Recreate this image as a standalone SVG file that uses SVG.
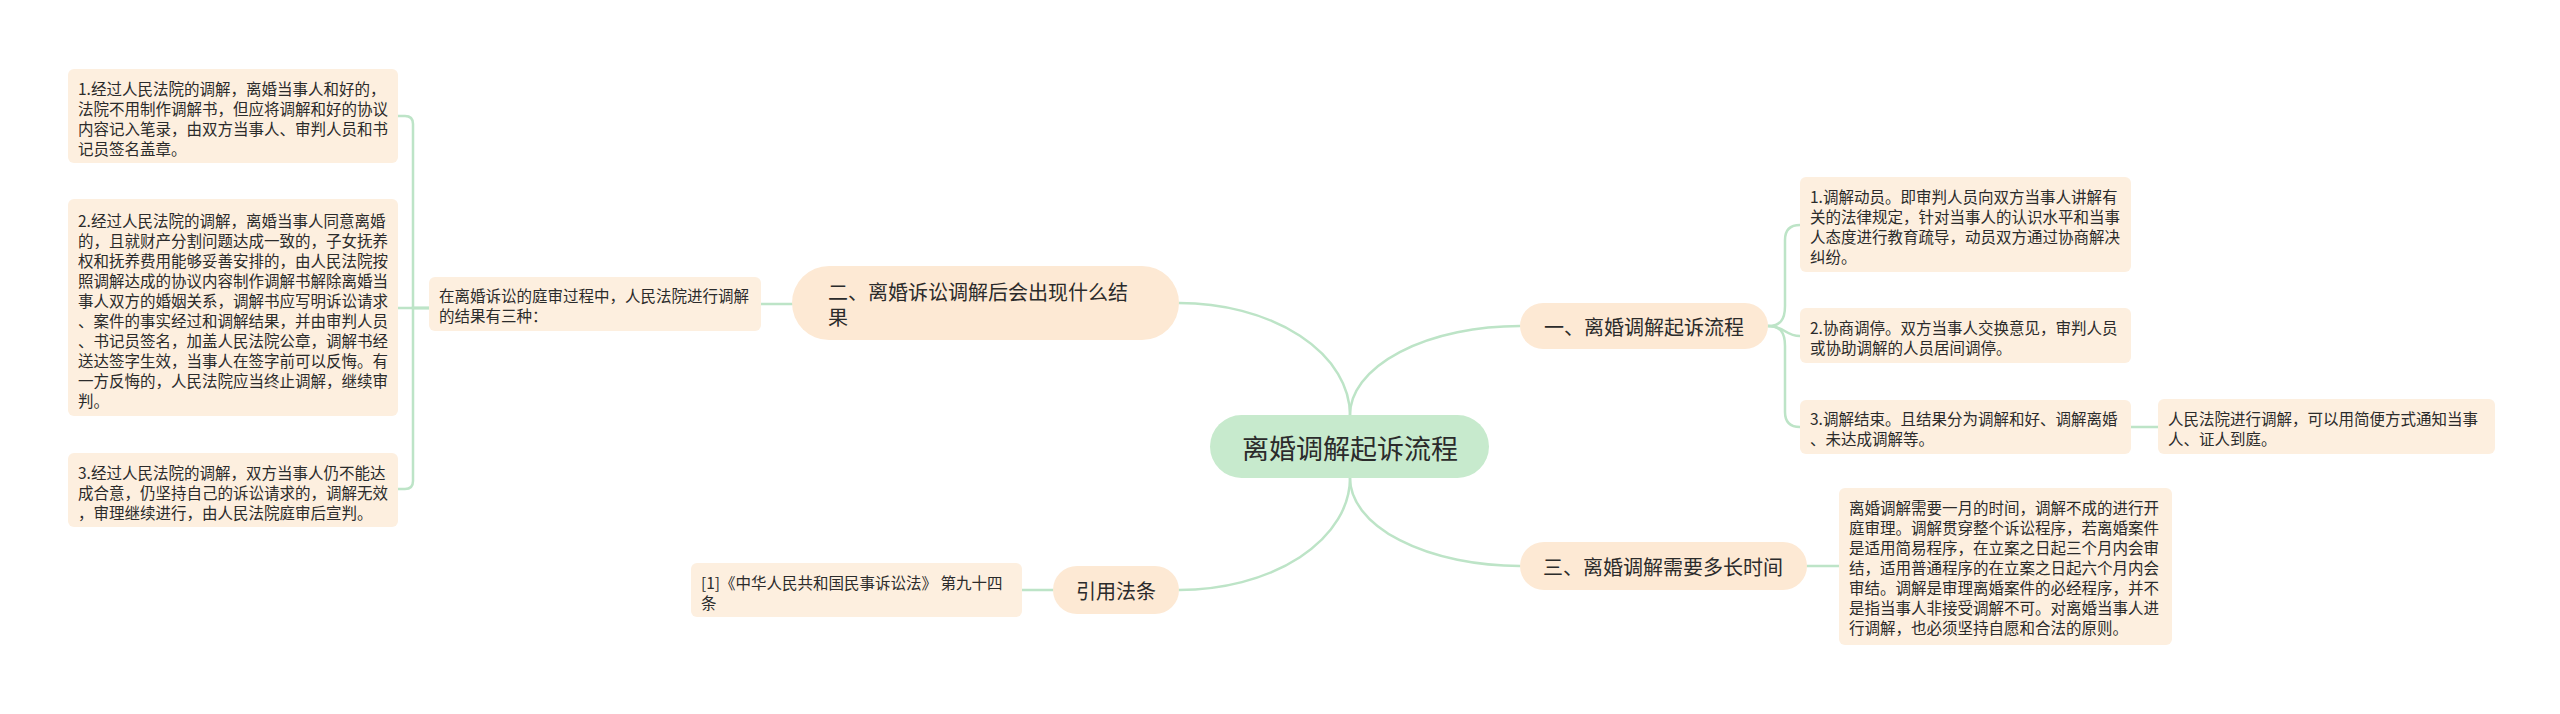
<svg xmlns="http://www.w3.org/2000/svg" width="2560" height="714" viewBox="0 0 2560 714">
<style>
.bg{fill:#ffffff}
.conn{fill:none;stroke:#bde4c7;stroke-width:2.5;stroke-linecap:round}
.main{fill:#fde9d4}
.leaf{fill:#fdefdf}
.root{fill:#c7eacd}
text{font-family:"Noto Sans CJK SC","Noto Sans",sans-serif;fill:#2b2b2b;dominant-baseline:central}
.t15{font-size:15.5px}
.t20{font-size:20px}
.t27{font-size:27px}
</style>
<rect class="bg" x="0" y="0" width="2560" height="714"/>
<g id="connectors">
<path class="conn" d="M1350 415 A171 112 0 0 0 1179 303"/>
<path class="conn" d="M1350 415 A170 89 0 0 1 1520 326"/>
<path class="conn" d="M1350 478 A170 88 0 0 0 1520 566"/>
<path class="conn" d="M1350 478 A171 112 0 0 1 1179 590"/>
<path class="conn" d="M792 304 L761 304"/>
<path class="conn" d="M1053 590 L1022 590"/>
<path class="conn" d="M429 308 L413 308 L413 124 Q413 116 405 116 L398 116"/>
<path class="conn" d="M429 308 L398 308"/>
<path class="conn" d="M429 308 L413 308 L413 481 Q413 489 405 489 L398 489"/>
<path class="conn" d="M1768 326 C1780 326 1785 320 1785 306 L1785 240 C1785 230 1790 225 1800 225"/>
<path class="conn" d="M1768 326 C1785 326 1785 336 1800 336"/>
<path class="conn" d="M1768 326 C1780 326 1785 332 1785 346 L1785 412 C1785 422 1790 427 1800 427"/>
<path class="conn" d="M2131 427 L2158 427"/>
<path class="conn" d="M1807 566 L1839 566"/>
</g>
<g id="root">
<rect class="root" x="1210" y="415" width="279" height="63" rx="31.5"/>
<text class="t27" x="1350" y="447" text-anchor="middle">离婚调解起诉流程</text>
</g>
<g id="n2">
<rect class="main" x="792" y="266" width="387" height="74" rx="37"/>
<text class="t20" x="828"><tspan x="828" y="291">二、离婚诉讼调解后会出现什么结</tspan><tspan x="828" y="316">果</tspan></text>
</g>
<g id="n2s">
<rect class="leaf" x="429" y="277" width="332" height="54" rx="6"/>
<text class="t15" x="439"><tspan x="439" y="295">在离婚诉讼的庭审过程中，人民法院进行调解</tspan><tspan x="439" y="315">的结果有三种：</tspan></text>
</g>
<g id="l1">
<rect class="leaf" x="68" y="69" width="330" height="94" rx="6"/>
<text class="t15"><tspan x="78" y="88">1.经过人民法院的调解，离婚当事人和好的，</tspan><tspan x="78" y="108">法院不用制作调解书，但应将调解和好的协议</tspan><tspan x="78" y="128">内容记入笔录，由双方当事人、审判人员和书</tspan><tspan x="78" y="148">记员签名盖章。</tspan></text>
</g>
<g id="l2">
<rect class="leaf" x="68" y="199" width="330" height="217" rx="6"/>
<text class="t15"><tspan x="78" y="220">2.经过人民法院的调解，离婚当事人同意离婚</tspan><tspan x="78" y="240">的，且就财产分割问题达成一致的，子女抚养</tspan><tspan x="78" y="260">权和抚养费用能够妥善安排的，由人民法院按</tspan><tspan x="78" y="280">照调解达成的协议内容制作调解书解除离婚当</tspan><tspan x="78" y="300">事人双方的婚姻关系，调解书应写明诉讼请求</tspan><tspan x="78" y="320">、案件的事实经过和调解结果，并由审判人员</tspan><tspan x="78" y="340">、书记员签名，加盖人民法院公章，调解书经</tspan><tspan x="78" y="360">送达签字生效，当事人在签字前可以反悔。有</tspan><tspan x="78" y="380">一方反悔的，人民法院应当终止调解，继续审</tspan><tspan x="78" y="400">判。</tspan></text>
</g>
<g id="l3">
<rect class="leaf" x="68" y="453" width="330" height="74" rx="6"/>
<text class="t15"><tspan x="78" y="472">3.经过人民法院的调解，双方当事人仍不能达</tspan><tspan x="78" y="492">成合意，仍坚持自己的诉讼请求的，调解无效</tspan><tspan x="78" y="512">，审理继续进行，由人民法院庭审后宣判。</tspan></text>
</g>
<g id="ref">
<rect class="main" x="1053" y="566" width="126" height="48" rx="24"/>
<text class="t20" x="1116" y="590" text-anchor="middle">引用法条</text>
</g>
<g id="refs">
<rect class="leaf" x="691" y="563" width="331" height="54" rx="6"/>
<text class="t15"><tspan x="701" y="582">[1]《中华人民共和国民事诉讼法》 第九十四</tspan><tspan x="701" y="602">条</tspan></text>
</g>
<g id="n1">
<rect class="main" x="1520" y="303" width="248" height="46" rx="23"/>
<text class="t20" x="1644" y="326" text-anchor="middle">一、离婚调解起诉流程</text>
</g>
<g id="r1">
<rect class="leaf" x="1800" y="177" width="331" height="95" rx="6"/>
<text class="t15"><tspan x="1810" y="196">1.调解动员。即审判人员向双方当事人讲解有</tspan><tspan x="1810" y="216">关的法律规定，针对当事人的认识水平和当事</tspan><tspan x="1810" y="236">人态度进行教育疏导，动员双方通过协商解决</tspan><tspan x="1810" y="256">纠纷。</tspan></text>
</g>
<g id="r2">
<rect class="leaf" x="1800" y="308" width="331" height="55" rx="6"/>
<text class="t15"><tspan x="1810" y="327">2.协商调停。双方当事人交换意见，审判人员</tspan><tspan x="1810" y="347">或协助调解的人员居间调停。</tspan></text>
</g>
<g id="r3">
<rect class="leaf" x="1800" y="400" width="331" height="54" rx="6"/>
<text class="t15"><tspan x="1810" y="418">3.调解结束。且结果分为调解和好、调解离婚</tspan><tspan x="1810" y="438">、未达成调解等。</tspan></text>
</g>
<g id="r4">
<rect class="leaf" x="2158" y="399" width="337" height="55" rx="6"/>
<text class="t15"><tspan x="2168" y="418">人民法院进行调解，可以用简便方式通知当事</tspan><tspan x="2168" y="438">人、证人到庭。</tspan></text>
</g>
<g id="n3">
<rect class="main" x="1520" y="542" width="287" height="48" rx="24"/>
<text class="t20" x="1663" y="566" text-anchor="middle">三、离婚调解需要多长时间</text>
</g>
<g id="n3s">
<rect class="leaf" x="1839" y="488" width="333" height="157" rx="6"/>
<text class="t15"><tspan x="1849" y="507">离婚调解需要一月的时间，调解不成的进行开</tspan><tspan x="1849" y="527">庭审理。调解贯穿整个诉讼程序，若离婚案件</tspan><tspan x="1849" y="547">是适用简易程序，在立案之日起三个月内会审</tspan><tspan x="1849" y="567">结，适用普通程序的在立案之日起六个月内会</tspan><tspan x="1849" y="587">审结。调解是审理离婚案件的必经程序，并不</tspan><tspan x="1849" y="607">是指当事人非接受调解不可。对离婚当事人进</tspan><tspan x="1849" y="627">行调解，也必须坚持自愿和合法的原则。</tspan></text>
</g>
</svg>
